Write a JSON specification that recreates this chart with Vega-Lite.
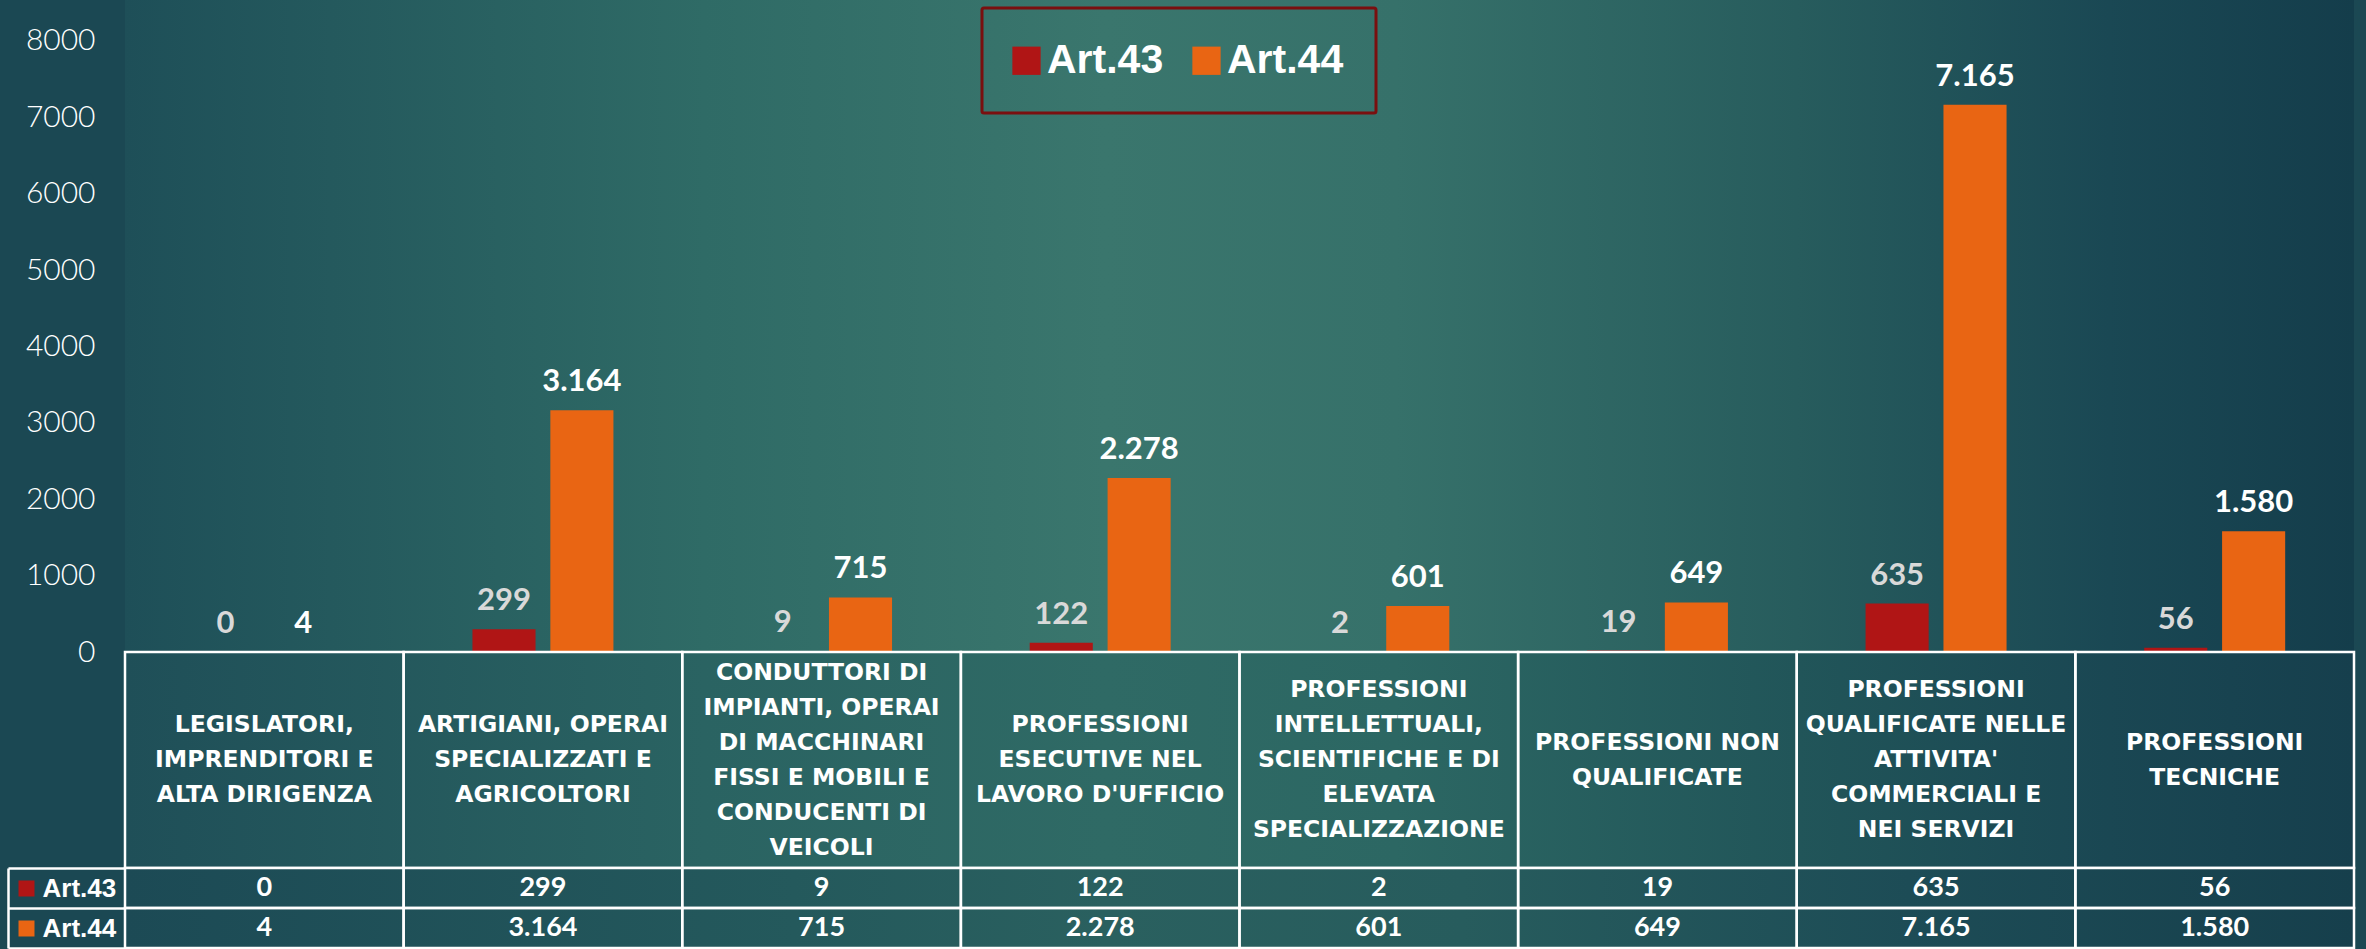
{
  "$schema": "https://vega.github.io/schema/vega-lite/v6.json",
  "background": "#1B4853",
  "padding": {"left": 6, "top": 0, "right": 12, "bottom": 0},
  "datasets": {
    "bars": [
      {"cat": "LEGISLATORI", "series": "Art.43", "value": 0},
      {"cat": "LEGISLATORI", "series": "Art.44", "value": 4},
      {"cat": "ARTIGIANI", "series": "Art.43", "value": 299},
      {"cat": "ARTIGIANI", "series": "Art.44", "value": 3164},
      {"cat": "CONDUTTORI", "series": "Art.43", "value": 9},
      {"cat": "CONDUTTORI", "series": "Art.44", "value": 715},
      {"cat": "ESECUTIVE", "series": "Art.43", "value": 122},
      {"cat": "ESECUTIVE", "series": "Art.44", "value": 2278},
      {"cat": "INTELLETTUALI", "series": "Art.43", "value": 2},
      {"cat": "INTELLETTUALI", "series": "Art.44", "value": 601},
      {"cat": "NON QUALIFICATE", "series": "Art.43", "value": 19},
      {"cat": "NON QUALIFICATE", "series": "Art.44", "value": 649},
      {"cat": "COMMERCIALI", "series": "Art.43", "value": 635},
      {"cat": "COMMERCIALI", "series": "Art.44", "value": 7165},
      {"cat": "TECNICHE", "series": "Art.43", "value": 56},
      {"cat": "TECNICHE", "series": "Art.44", "value": 1580}
    ],
    "cats": [
      {"cat": "LEGISLATORI", "header": "LEGISLATORI,\nIMPRENDITORI E\nALTA DIRIGENZA"},
      {"cat": "ARTIGIANI", "header": "ARTIGIANI, OPERAI\nSPECIALIZZATI E\nAGRICOLTORI"},
      {"cat": "CONDUTTORI", "header": "CONDUTTORI DI\nIMPIANTI, OPERAI\nDI MACCHINARI\nFISSI E MOBILI E\nCONDUCENTI DI\nVEICOLI"},
      {"cat": "ESECUTIVE", "header": "PROFESSIONI\nESECUTIVE NEL\nLAVORO D'UFFICIO"},
      {"cat": "INTELLETTUALI", "header": "PROFESSIONI\nINTELLETTUALI,\nSCIENTIFICHE E DI\nELEVATA\nSPECIALIZZAZIONE"},
      {"cat": "NON QUALIFICATE", "header": "PROFESSIONI NON\nQUALIFICATE"},
      {"cat": "COMMERCIALI", "header": "PROFESSIONI\nQUALIFICATE NELLE\nATTIVITA'\nCOMMERCIALI E\nNEI SERVIZI"},
      {"cat": "TECNICHE", "header": "PROFESSIONI\nTECNICHE"}
    ]
  },
  "spacing": 0,
  "bounds": "flush",
  "resolve": {"scale": {"x": "independent", "y": "independent"}},
  "vconcat": [
    {
      "width": 2229,
      "height": 652,
      "data": {"name": "bars"},
      "view": {"stroke": null, "fill": {"gradient": "linear", "x1": 0, "y1": 0, "x2": 1, "y2": 0, "stops": [
        {"offset": 0, "color": "#1E4F58"},
        {"offset": 0.26, "color": "#2F6B66"},
        {"offset": 0.44, "color": "#3A766D"},
        {"offset": 0.57, "color": "#36716A"},
        {"offset": 0.75, "color": "#275C5D"},
        {"offset": 0.89, "color": "#1A4854"},
        {"offset": 1, "color": "#143D4B"}
      ]}},
      "encoding": {
        "x": {"field": "cat", "type": "nominal", "sort": null, "scale": {"paddingInner": 0.494, "paddingOuter": 0.247}, "axis": null},
        "xOffset": {"field": "series", "type": "nominal", "sort": ["Art.43", "Art.44"], "scale": {"paddingInner": 0.19, "paddingOuter": 0}},
        "y": {"field": "value", "type": "quantitative", "scale": {"domain": [0, 8536.8], "nice": false, "zero": true},
          "axis": {"title": null, "values": [0, 1000, 2000, 3000, 4000, 5000, 6000, 7000, 8000], "format": "d", "domain": false, "ticks": false, "grid": false,
            "labelFont": "Lato", "labelFontWeight": 300, "labelFontSize": 30, "labelColor": "#FFFFFF", "labelPadding": 30, "labelOverlap": false}}
      },
      "layer": [
        {
          "mark": {"type": "bar"},
          "encoding": {
            "color": {"field": "series", "type": "nominal",
              "scale": {"domain": ["Art.43", "Art.44"], "range": ["#B01515", "#E96513"]},
              "legend": {"orient": "none", "legendX": 857, "legendY": 8, "direction": "horizontal", "title": null,
                "padding": 32, "strokeColor": "#7A0F0F", "cornerRadius": 2,
                "symbolType": "square", "symbolSize": 800, "symbolStrokeWidth": 0, "symbolOffset": -8,
                "labelFont": "Liberation Sans", "labelFontWeight": "bold", "labelFontSize": 41, "labelColor": "#FFFFFF",
                "labelOffset": 0, "columnPadding": 28, "labelLimit": 300}}
          }
        },
        {
          "mark": {"type": "text", "font": "Lato", "fontWeight": "bold", "fontSize": 31, "baseline": "alphabetic", "dy": -19},
          "encoding": {
            "text": {"field": "value", "type": "quantitative", "format": ",d"},
            "color": {"condition": {"test": "datum.series === 'Art.43'", "value": "#D9D9D9"}, "value": "#FFFFFF"}
          }
        }
      ]
    },
    {
      "width": 2229,
      "height": 216,
      "data": {"name": "cats"},
      "view": {"stroke": null, "fill": {"gradient": "linear", "x1": 0, "y1": 0, "x2": 1, "y2": 0, "stops": [
        {"offset": 0, "color": "#1F4F58"},
        {"offset": 0.26, "color": "#2A6362"},
        {"offset": 0.44, "color": "#2F6A65"},
        {"offset": 0.57, "color": "#2C6763"},
        {"offset": 0.75, "color": "#215559"},
        {"offset": 0.89, "color": "#1A4753"},
        {"offset": 1, "color": "#163F4D"}
      ]}},
      "encoding": {
        "x": {"field": "cat", "type": "nominal", "sort": null, "scale": {"paddingInner": 0, "paddingOuter": 0}, "axis": null},
        "text": {"field": "header", "type": "nominal"}
      },
      "layer": [
        {"mark": {"type": "bar", "fill": "transparent", "stroke": "#FFFFFF", "strokeWidth": 2.5}, "encoding": {"text": null}},
        {"transform": [{"filter": "split(datum.header, '\\n').length === 2"}],
          "mark": {"type": "text", "lineBreak": "\n", "font": "DejaVu Sans", "fontWeight": "bold", "fontSize": 23.5, "lineHeight": 35, "color": "#FFFFFF", "baseline": "middle", "align": "center", "dy": -17.5}},
        {"transform": [{"filter": "split(datum.header, '\\n').length === 3"}],
          "mark": {"type": "text", "lineBreak": "\n", "font": "DejaVu Sans", "fontWeight": "bold", "fontSize": 23.5, "lineHeight": 35, "color": "#FFFFFF", "baseline": "middle", "align": "center", "dy": -35}},
        {"transform": [{"filter": "split(datum.header, '\\n').length === 5"}],
          "mark": {"type": "text", "lineBreak": "\n", "font": "DejaVu Sans", "fontWeight": "bold", "fontSize": 23.5, "lineHeight": 35, "color": "#FFFFFF", "baseline": "middle", "align": "center", "dy": -70}},
        {"transform": [{"filter": "split(datum.header, '\\n').length === 6"}],
          "mark": {"type": "text", "lineBreak": "\n", "font": "DejaVu Sans", "fontWeight": "bold", "fontSize": 23.5, "lineHeight": 35, "color": "#FFFFFF", "baseline": "middle", "align": "center", "dy": -87.5}}
      ]
    },
    {
      "width": 2229,
      "height": 80,
      "data": {"name": "bars"},
      "view": {"stroke": null, "fill": {"gradient": "linear", "x1": 0, "y1": 0, "x2": 1, "y2": 0, "stops": [
        {"offset": 0, "color": "#1C4A55"},
        {"offset": 0.3, "color": "#24595C"},
        {"offset": 0.44, "color": "#2A605F"},
        {"offset": 0.6, "color": "#275C5D"},
        {"offset": 0.8, "color": "#1D4C56"},
        {"offset": 1, "color": "#163F4C"}
      ]}},
      "encoding": {
        "x": {"field": "cat", "type": "nominal", "sort": null, "scale": {"paddingInner": 0, "paddingOuter": 0}, "axis": null}
      },
      "layer": [
        {
          "mark": {"type": "rect", "fill": "transparent", "stroke": "#FFFFFF", "strokeWidth": 2.5},
          "encoding": {
            "y": {"field": "series", "type": "nominal", "sort": ["Art.43", "Art.44"], "scale": {"paddingInner": 0, "paddingOuter": 0},
              "axis": {"orient": "left", "title": null, "domain": false, "ticks": true, "tickBand": "extent", "tickSize": 117, "tickWidth": 2.5, "tickColor": "#FFFFFF",
                "labels": true, "labelAlign": "left", "labelPadding": -34, "labelFont": "Liberation Sans", "labelFontWeight": "bold", "labelFontSize": 26, "labelColor": "#FFFFFF", "labelBaseline": "middle", "labelOverlap": false}}
          }
        },
        {
          "mark": {"type": "text", "font": "Lato", "fontWeight": "bold", "fontSize": 27, "color": "#FFFFFF", "baseline": "middle"},
          "encoding": {
            "y": {"field": "series", "type": "nominal", "sort": ["Art.43", "Art.44"],
              "axis": {"orient": "left", "offset": 107, "title": null, "domain": false, "labels": false, "ticks": true, "tickSize": -16, "tickWidth": 16, "tickCap": "butt",
                "tickColor": {"condition": {"test": "datum.value === 'Art.43'", "value": "#B01515"}, "value": "#E96513"}}},
            "text": {"field": "value", "type": "quantitative", "format": ",d"}
          }
        },
        {
          "mark": {"type": "text", "text": "", "opacity": 0},
          "encoding": {
            "y": {"field": "series", "type": "nominal", "sort": ["Art.43", "Art.44"],
              "axis": {"orient": "left", "offset": 117, "title": null, "domain": true, "domainColor": "#FFFFFF", "domainWidth": 2.5, "ticks": false, "labels": false}}
          }
        }
      ],
      "resolve": {"axis": {"y": "independent"}}
    }
  ],
  "config": {
    "view": {"stroke": null},
    "legend": {"strokeWidth": 3},
    "locale": {"number": {"decimal": ",", "thousands": ".", "grouping": [3], "currency": ["€", ""]}}
  }
}
